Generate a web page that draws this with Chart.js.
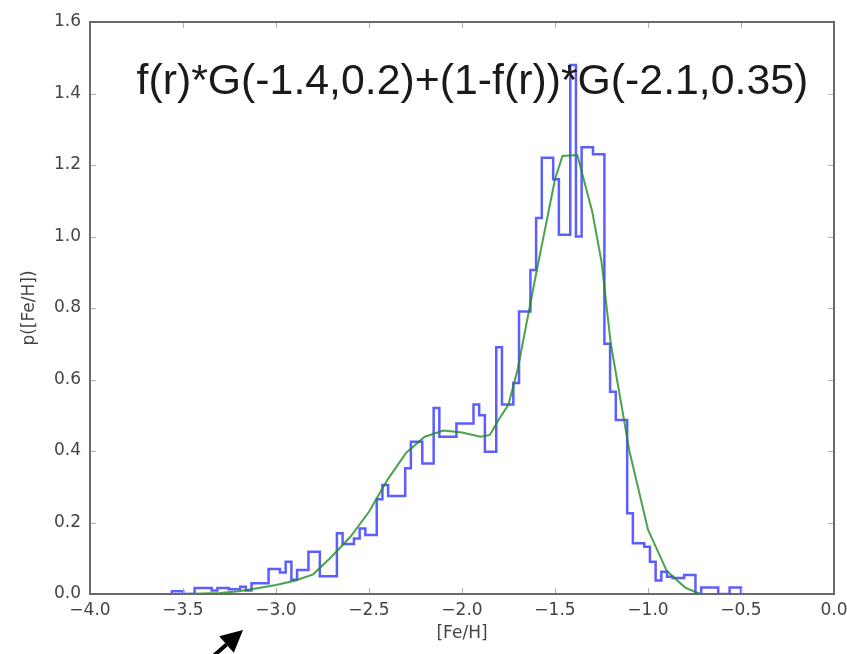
<!DOCTYPE html>
<html>
<head>
<meta charset="utf-8">
<script src="https://cdn.jsdelivr.net/npm/chart.js@4/dist/chart.umd.min.js"></script>
<style>
  html, body { margin: 0; padding: 0; background: #fff; }
</style>
</head>
<body>
<canvas id="mdf" width="847" height="654"></canvas>
<script>
// [Fe/H] histogram: 100 equal bins starting at binStart
const binStart = -3.56;
const binWidth = 0.0306;
const density = [
  0.008, 0.008, 0, 0, 0.017, 0.017, 0.017, 0.01, 0.017, 0.017,
  0.013, 0.013, 0.02, 0.01, 0.03, 0.03, 0.03, 0.07, 0.07, 0.06,
  0.09, 0.04, 0.067, 0.067, 0.118, 0.118, 0.05, 0.05, 0.05, 0.17,
  0.14, 0.14, 0.155, 0.183, 0.165, 0.165, 0.265, 0.305, 0.274, 0.274,
  0.274, 0.352, 0.426, 0.426, 0.365, 0.365, 0.52, 0.44, 0.44, 0.44,
  0.477, 0.477, 0.477, 0.53, 0.50, 0.398, 0.398, 0.69, 0.53, 0.53,
  0.59, 0.79, 0.79, 0.906, 1.052, 1.22, 1.22, 1.16, 1.005, 1.005,
  1.48, 1.0, 1.25, 1.25, 1.23, 1.23, 0.70, 0.566, 0.487, 0.487,
  0.226, 0.142, 0.142, 0.132, 0.09, 0.038, 0.062, 0.048, 0.045, 0.045,
  0.053, 0.053, 0, 0.018, 0.018, 0.018, 0, 0, 0.018, 0.018
];

// two-gaussian model curve
const modelX = [-4.0, -3.5, -3.3, -3.2, -3.1, -3.0, -2.9, -2.8, -2.7, -2.6,
  -2.5, -2.4, -2.3, -2.2, -2.1, -2.0, -1.9, -1.85, -1.8, -1.75,
  -1.7, -1.6, -1.5, -1.46, -1.38, -1.3, -1.25, -1.2, -1.1, -1.0,
  -0.9, -0.8, -0.72, 0.0];
const modelY = [0, 0, 0.003, 0.008, 0.016, 0.025, 0.037, 0.055, 0.105, 0.16,
  0.23, 0.32, 0.395, 0.44, 0.457, 0.452, 0.44, 0.445, 0.49, 0.53,
  0.63, 0.9, 1.16, 1.225, 1.228, 1.07, 0.93, 0.70, 0.40, 0.18,
  0.065, 0.018, 0, 0];

const xTicks = [-4.0, -3.5, -3.0, -2.5, -2.0, -1.5, -1.0, -0.5, 0.0];
const yTicks = [0.0, 0.2, 0.4, 0.6, 0.8, 1.0, 1.2, 1.4, 1.6];

const label = 'f(r)*G(-1.4,0.2)+(1-f(r))*G(-2.1,0.35)';

// step outline of the histogram
var histPts = [{ x: binStart, y: 0 }];
density.forEach(function (h, i) {
  histPts.push({ x: binStart + i * binWidth, y: h });
});
var binEnd = binStart + density.length * binWidth;
histPts.push({ x: binEnd, y: density[density.length - 1] });
histPts.push({ x: binEnd, y: 0 });

var modelPts = modelX.map(function (x, i) { return { x: x, y: modelY[i] }; });

function fmt(v) {
  return v.toFixed(1).replace('-', '\u2212');
}

// box around the axes with inward ticks on all four sides
var frame = {
  id: 'frame',
  afterDatasetsDraw: function (chart) {
    var ctx = chart.ctx, a = chart.chartArea;
    var xs = chart.scales.x, ys = chart.scales.y;
    ctx.save();
    ctx.strokeStyle = '#b0b0b0';
    ctx.lineWidth = 1;
    ctx.beginPath();
    xTicks.forEach(function (v) {
      var px = Math.round(xs.getPixelForValue(v)) + 0.5;
      ctx.moveTo(px, a.bottom); ctx.lineTo(px, a.bottom - 6);
      ctx.moveTo(px, a.top); ctx.lineTo(px, a.top + 6);
    });
    yTicks.forEach(function (v) {
      var py = Math.round(ys.getPixelForValue(v)) + 0.5;
      ctx.moveTo(a.left, py); ctx.lineTo(a.left + 6, py);
      ctx.moveTo(a.right, py); ctx.lineTo(a.right - 6, py);
    });
    ctx.stroke();
    ctx.strokeStyle = '#6a6a6a';
    ctx.lineWidth = 2;
    ctx.strokeRect(a.left, a.top, a.right - a.left, a.bottom - a.top);
    ctx.restore();
  }
};

// model label over the plot and the arrow below the axis
var notes = {
  id: 'notes',
  afterDraw: function (chart) {
    var ctx = chart.ctx;
    var xs = chart.scales.x, ys = chart.scales.y;
    var x0 = xs.getPixelForValue(-3.75), x1 = xs.getPixelForValue(-0.14);
    ctx.save();
    ctx.fillStyle = '#1a1a1a';
    ctx.font = '35px "Liberation Sans", Arial, sans-serif';
    var size = 35 * (x1 - x0) / ctx.measureText(label).width;
    ctx.font = size.toFixed(1) + 'px "Liberation Sans", Arial, sans-serif';
    ctx.textBaseline = 'alphabetic';
    ctx.fillText(label, x0, ys.getPixelForValue(1.4));

    var tip = { x: 243, y: 630 };
    var ang = Math.atan2(-15, 17);
    var len = 22, half = 11;
    var bx = tip.x - len * Math.cos(ang), by = tip.y - len * Math.sin(ang);
    ctx.strokeStyle = '#000';
    ctx.fillStyle = '#000';
    ctx.lineWidth = 4;
    ctx.beginPath();
    ctx.moveTo(bx, by);
    ctx.lineTo(bx - 40 * Math.cos(ang), by - 40 * Math.sin(ang));
    ctx.stroke();
    ctx.beginPath();
    ctx.moveTo(tip.x, tip.y);
    ctx.lineTo(bx + half * Math.sin(ang), by - half * Math.cos(ang));
    ctx.lineTo(bx - half * Math.sin(ang), by + half * Math.cos(ang));
    ctx.closePath();
    ctx.fill();
    ctx.restore();
  }
};

var tickFont = { family: '"DejaVu Sans", sans-serif', size: 17 };

var ctx = document.getElementById('mdf').getContext('2d');
var chart = new Chart(ctx, {
  type: 'line',
  data: {
    datasets: [{
      label: 'model',
      data: modelPts,
      borderColor: 'rgba(30,140,30,0.8)',
      borderWidth: 2,
      pointRadius: 0,
      tension: 0,
      fill: false
    }, {
      label: 'histogram',
      data: histPts,
      borderColor: 'rgba(40,40,255,0.75)',
      borderWidth: 2.5,
      pointRadius: 0,
      stepped: true,
      fill: false
    }]
  },
  options: {
    responsive: false,
    animation: false,
    devicePixelRatio: 1,
    layout: { padding: { left: 0, right: 13, top: 22, bottom: 0 } },
    plugins: { legend: { display: false }, tooltip: { enabled: false } },
    scales: {
      x: {
        type: 'linear',
        min: -4, max: 0,
        grid: { display: false, drawTicks: false },
        border: { display: false },
        afterBuildTicks: function (s) { s.ticks = xTicks.map(function (v) { return { value: v }; }); },
        afterFit: function (s) { s.height = 60; s.paddingLeft = 0; s.paddingRight = 0; },
        ticks: { font: tickFont, color: '#444', padding: 6, maxRotation: 0, callback: function (v) { return fmt(v); } },
        title: { display: true, text: '[Fe/H]', font: tickFont, color: '#444', padding: { top: 0, bottom: 10 } }
      },
      y: {
        min: 0, max: 1.6,
        grid: { display: false, drawTicks: false },
        border: { display: false },
        afterBuildTicks: function (s) { s.ticks = yTicks.map(function (v) { return { value: v }; }); },
        afterFit: function (s) { s.width = 90; s.paddingTop = 0; s.paddingBottom = 0; },
        ticks: { font: tickFont, color: '#444', padding: 9, callback: function (v) { return fmt(v); } },
        title: { display: true, text: 'p([Fe/H])', font: { family: '"DejaVu Sans", sans-serif', size: 17 }, color: '#444', padding: { top: 19, bottom: 0 } }
      }
    }
  },
  plugins: [frame, notes]
});
</script>
</body>
</html>
